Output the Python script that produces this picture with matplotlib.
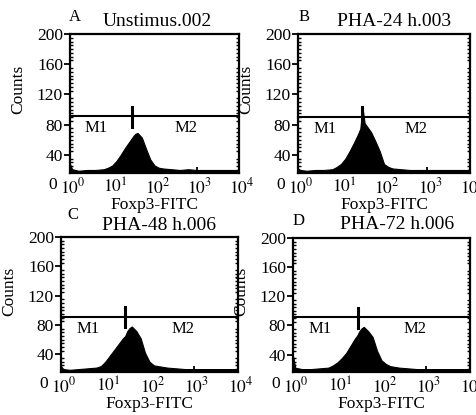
import matplotlib
matplotlib.use("Agg")
import matplotlib.pyplot as plt
import matplotlib.transforms as mtransforms
from matplotlib.ticker import FixedLocator, MultipleLocator, LogLocator, NullFormatter
import numpy as np

plt.rcParams['font.family'] = ['Liberation Serif', 'DejaVu Serif']
plt.rcParams['mathtext.fontset'] = 'stix'

# log10 of FL1 channel positions
log_fl1 = [0.0, 0.05, 0.2, 0.4, 0.6, 0.8, 0.9, 1.0, 1.1, 1.2, 1.3, 1.4, 1.45, 1.5,
           1.55, 1.6, 1.7, 1.8, 1.9, 2.0, 2.1, 2.2, 2.4, 2.6, 2.8, 3.0, 3.2, 3.4,
           3.6, 3.8, 4.0]

counts_a = [28, 21, 19, 20, 20, 21, 23, 26, 32, 40, 49, 57, 61, 65,
            68, 69, 63, 48, 34, 26, 23, 22, 21, 20, 21, 20, 20, 20,
            20, 20, 20]
counts_b = [22, 20, 19, 20, 20, 21, 24, 28, 35, 45, 56, 68, 75, 103,
            82, 78, 70, 58, 45, 28, 24, 22, 21, 20, 20, 20, 20, 20,
            20, 20, 20]
counts_c = [24, 20, 19, 20, 21, 22, 24, 30, 38, 46, 54, 62, 65, 72,
            76, 78, 72, 62, 42, 30, 25, 24, 22, 21, 20, 20, 20, 20,
            20, 20, 20]
counts_d = [38, 22, 20, 20, 21, 22, 25, 29, 35, 42, 52, 62, 66, 72,
            76, 78, 72, 64, 45, 32, 27, 24, 22, 21, 20, 20, 20, 20,
            20, 20, 20]

letters = ['A', 'B', 'C', 'D']
titles = ['Unstimus.002', 'PHA-24 h.003', 'PHA-48 h.006', 'PHA-72 h.006']
all_counts = [counts_a, counts_b, counts_c, counts_d]
# M1/M2 gate: divider position (log10) and gate level
gate_log = [1.46, 1.49, 1.45, 1.48]
gate_level = [91, 90, 91, 91]

W, H = 476, 415
# panel boxes in pixels: left, top, right, bottom
boxes = [(70, 34, 239, 173), (298, 34, 470, 173),
         (61, 237, 238, 372), (293, 238, 470, 372)]
letter_pos = [(75, 17), (304, 17), (73, 215), (299, 221)]
title_pos = [(157, 22), (394, 22), (159, 225), (397, 224)]

fig = plt.figure(figsize=(W / 100, H / 100), dpi=100)
shift = mtransforms.ScaledTranslation(3 / 100, 0, fig.dpi_scale_trans)

for i in range(4):
    l, t, r, b = boxes[i]
    pw = r - l
    ph = b - t
    ax = fig.add_axes([l / W, 1 - b / H, pw / W, ph / H])
    x = [10 ** v for v in log_fl1]
    ax.fill_between(x, 0, all_counts[i], color='black', lw=0.8, edgecolor='black')
    ax.set_xscale('log')
    ax.set_xlim(1, 1e4)
    ax.set_ylim(16, 200)

    # gate markers
    g = 10 ** gate_log[i]
    lv = gate_level[i]
    ax.plot([1, 1e4], [lv, lv], color='black', lw=1.5, clip_on=False)
    ax.plot([g, g], [lv - 14, lv + 13], color='black', lw=2.2)
    if i > 0:
        ax.plot([1.02, 1.02], [lv - 7, lv + 7], color='black', lw=1.5)
    ax.text(10 ** 0.62, lv - 5, 'M1', ha='center', va='top', fontsize=12)
    ax.text(10 ** 2.75, lv - 5, 'M2', ha='center', va='top', fontsize=12)

    # axes styling
    for s in ax.spines.values():
        s.set_linewidth(1.6)
    ax.yaxis.set_major_locator(FixedLocator([40, 80, 120, 160, 200]))
    ax.yaxis.set_minor_locator(MultipleLocator(5))
    ax.xaxis.set_major_locator(FixedLocator([1, 10, 100, 1000, 10000]))
    ax.xaxis.set_minor_locator(LogLocator(base=10, subs=np.arange(1.5, 10, 0.5)))
    ax.xaxis.set_minor_formatter(NullFormatter())
    ax.set_xticklabels([r'$10^{0}$', r'$10^{1}$', r'$10^{2}$', r'$10^{3}$', r'$10^{4}$'])
    ax.tick_params(axis='both', which='major', labelsize=12.5, width=1.3, pad=1)
    ax.tick_params(axis='y', which='major', direction='out', length=4)
    ax.tick_params(axis='x', which='major', direction='in', length=4, pad=3)
    ax.tick_params(which='minor', direction='in', length=2.5, width=1,
                   right=True, top=False)
    for lab in ax.get_xticklabels():
        lab.set_transform(lab.get_transform() + shift)
    ax.text(-17 / pw, 0, '0', transform=ax.get_yaxis_transform(), ha='center',
            va='center', fontsize=12.5, clip_on=False)

    ax.set_ylabel('Counts', fontsize=12.5)
    ax.yaxis.set_label_coords(-44 / pw, 0.6)
    ax.set_xlabel('Foxp3-FITC', fontsize=12.5, labelpad=0)

    lx, ly = letter_pos[i]
    fig.text(lx / W, 1 - ly / H, letters[i], ha='center', va='center', fontsize=12)
    tx, ty = title_pos[i]
    fig.text(tx / W, 1 - ty / H, titles[i], ha='center', va='center', fontsize=14)

fig.savefig('out.png', dpi=100)
